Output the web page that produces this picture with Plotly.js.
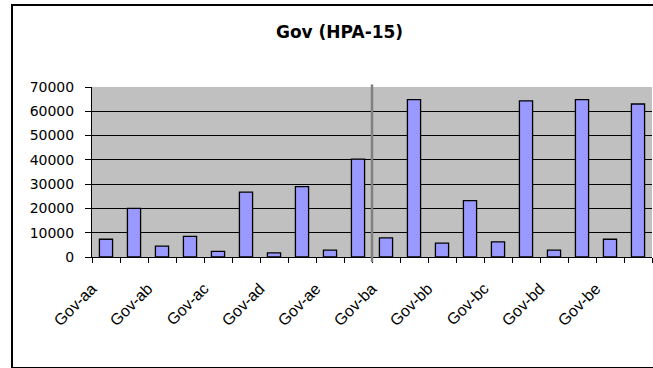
<!DOCTYPE html>
<html>
<head>
<meta charset="utf-8">
<script src="https://cdn.plot.ly/plotly-3.0.1.min.js"></script>
<style>
  html, body { margin: 0; padding: 0; background: #fff; }
  #wrap { position: relative; width: 653px; height: 368px; overflow: hidden; }
  #chart { width: 653px; height: 368px; }
  #frame { position: absolute; left: 11px; top: 4px; width: 700px; height: 361px;
           border: 2px solid #000; pointer-events: none; box-sizing: content-box; }
</style>
</head>
<body>
<div id="wrap">
  <div id="chart"></div>
  <div id="frame"></div>
</div>
<script>
// Tick labels (one per pair of bars)
var govLabels = ['Gov-aa', 'Gov-ab', 'Gov-ac', 'Gov-ad', 'Gov-ae',
                 'Gov-ba', 'Gov-bb', 'Gov-bc', 'Gov-bd', 'Gov-be'];
// Bar values, 20 bars in order
var values = [7300, 20000, 4500, 8500, 2300, 26700, 1700, 29000, 2800, 40300,
              7900, 64800, 5700, 23200, 6200, 64300, 2800, 64800, 7300, 63000];
var yTicks = [0, 10000, 20000, 30000, 40000, 50000, 60000, 70000];

var xIdx = values.map(function (_, i) { return i; });
var tickPos = govLabels.map(function (_, i) { return 2 * i; });
var boundaries = [];
for (var b = 0; b <= values.length; b++) boundaries.push(b - 0.5);

var trace = {
  type: 'bar',
  x: xIdx,
  y: values,
  marker: { color: '#9999FF', line: { color: '#000000', width: 1.3 } },
  hoverinfo: 'skip'
};

var font = 'DejaVu Sans, Arial, sans-serif';

var layout = {
  width: 653, height: 368, autosize: false,
  margin: { l: 92, r: 1, t: 87, b: 111, pad: 0 },
  paper_bgcolor: '#FFFFFF',
  plot_bgcolor: '#C0C0C0',
  showlegend: false,
  bargap: 0.53,
  title: {
    text: 'Gov (HPA-15)',
    font: { family: font, size: 17, color: '#000', weight: 'bold' },
    xref: 'container', yref: 'container',
    x: 0.52, xanchor: 'center',
    y: 1 - 32 / 368, yanchor: 'middle'
  },
  xaxis: {
    type: 'linear',
    range: [-0.5, values.length - 0.5],
    tickmode: 'array',
    tickvals: tickPos,
    ticktext: govLabels,
    tickangle: -45,
    ticks: '',
    ticklen: 0,
    ticklabelstandoff: 15,
    ticklabelshift: -14,
    tickfont: { family: 'Liberation Sans, Arial, sans-serif', size: 16, color: '#000' },
    showgrid: false,
    zeroline: false,
    showline: true,
    linecolor: '#000',
    linewidth: 1,
    minor: {
      tickmode: 'array',
      tickvals: boundaries,
      ticks: 'outside',
      ticklen: 5,
      tickwidth: 1,
      tickcolor: '#000',
      showgrid: false
    },
    fixedrange: true
  },
  yaxis: {
    range: [0, 70000],
    tickmode: 'array',
    tickvals: yTicks,
    ticktext: yTicks.map(String),
    ticks: 'outside',
    ticklen: 6,
    tickcolor: '#000',
    ticklabelstandoff: 8,
    tickfont: { family: font, size: 14, color: '#000' },
    showgrid: true,
    gridcolor: '#000',
    gridwidth: 1,
    zeroline: false,
    showline: true,
    linecolor: '#000',
    linewidth: 1,
    fixedrange: true
  },
  shapes: [{
    type: 'line', xref: 'x', yref: 'paper',
    x0: 9.5, x1: 9.5, y0: -0.03, y1: 1.015,
    line: { color: '#808080', width: 2.5 }
  }]
};

Plotly.newPlot('chart', [trace], layout, { staticPlot: true, displayModeBar: false });
</script>
</body>
</html>
